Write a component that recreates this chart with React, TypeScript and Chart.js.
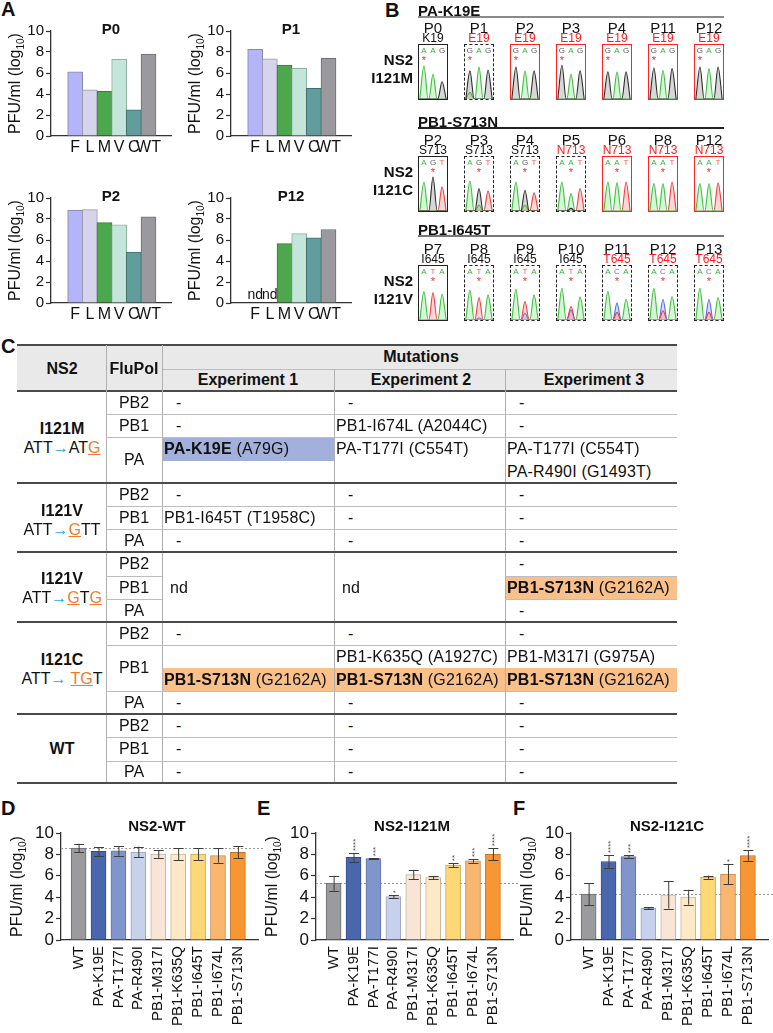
import React, { useEffect, useRef } from 'react';
import { Chart, registerables } from 'chart.js';

Chart.register(...registerables);

const FONT = '"Liberation Sans", Arial, Helvetica, sans-serif';
Chart.defaults.font.family = FONT;

// ---------------- Panel A data ----------------
const aCategories = ['F', 'L', 'M', 'V', 'C', 'WT'];
const aFill = ['#b4b4f8', '#d5d4eb', '#4da74c', '#c4e6da', '#609d9c', '#9a9a9e'];
const aBorder = ['#8787a8', '#9a99ad', '#3b7b3b', '#8fb2a7', '#426f6e', '#6f6f73'];
const p0Titers = [6.1, 4.4, 4.25, 7.3, 2.5, 7.8];
const p1Titers = [8.25, 7.35, 6.75, 6.45, 4.55, 7.4];
const p2Titers = [8.85, 8.9, 7.65, 7.45, 4.85, 8.2];
const p12Titers = [null, null, 5.65, 6.6, 6.2, 7.0];
const p12Missing = ['nd', 'nd', '', '', '', ''];

// ---------------- Panel B data ----------------
// peak heights per base position: [A, C, G, T]
const k19ePassages = ['P0', 'P1', 'P2', 'P3', 'P4', 'P11', 'P12'];
const k19eResidues = ['K19', 'E19', 'E19', 'E19', 'E19', 'E19', 'E19'];
const k19eMutant = [false, true, true, true, true, true, true];
const k19eBases = ['AAG', 'GAG', 'GAG', 'GAG', 'GAG', 'GAG', 'GAG'];
const k19eBoxes = ['solid', 'dashed', 'red', 'red', 'red', 'red', 'red'];
const k19ePeaks = [
  [[1.0, 0, 0, 0], [0.75, 0, 0, 0], [0, 0, 0.52, 0]],
  [[0.2, 0, 0.85, 0], [0.97, 0, 0, 0], [0, 0, 0.88, 0]],
  [[0, 0, 0.97, 0], [0.85, 0, 0, 0], [0, 0, 0.85, 0]],
  [[0, 0, 1.02, 0], [0.75, 0, 0, 0], [0, 0, 0.85, 0]],
  [[0, 0, 0.82, 0], [0.82, 0, 0, 0], [0, 0, 0.82, 0]],
  [[0, 0, 0.94, 0], [0.87, 0, 0, 0], [0, 0, 0.92, 0]],
  [[0, 0, 0.97, 0], [0.92, 0, 0, 0], [0, 0, 0.97, 0]],
];

const s713nPassages = ['P2', 'P3', 'P4', 'P5', 'P6', 'P8', 'P12'];
const s713nResidues = ['S713', 'S713', 'S713', 'N713', 'N713', 'N713', 'N713'];
const s713nMutant = [false, false, false, true, true, true, true];
const s713nBases = ['AGT', 'AGT', 'AGT', 'AAT', 'AAT', 'AAT', 'AAT'];
const s713nBoxes = ['solid', 'dashed', 'dashed', 'dashed', 'red', 'red', 'red'];
const s713nPeaks = [
  [[0.88, 0, 0, 0], [0, 0, 1.03, 0], [0, 0, 0, 0.73]],
  [[0.91, 0, 0, 0], [0.18, 0, 0.68, 0], [0, 0, 0, 0.61]],
  [[0.88, 0, 0, 0], [0.18, 0, 0.63, 0], [0, 0, 0, 0.55]],
  [[0.88, 0, 0, 0], [0.53, 0, 0.08, 0], [0, 0, 0, 0.68]],
  [[0.88, 0, 0, 0], [0.86, 0, 0, 0], [0, 0, 0, 0.88]],
  [[0.83, 0, 0, 0], [0.83, 0, 0, 0], [0, 0, 0, 0.88]],
  [[0.83, 0, 0, 0], [0.83, 0, 0, 0], [0, 0, 0, 0.85]],
];

const i645tPassages = ['P7', 'P8', 'P9', 'P10', 'P11', 'P12', 'P13'];
const i645tResidues = ['I645', 'I645', 'I645', 'I645', 'T645', 'T645', 'T645'];
const i645tMutant = [false, false, false, false, true, true, true];
const i645tBases = ['ATA', 'ATA', 'ATA', 'ATA', 'ACA', 'ACA', 'ACA'];
const i645tBoxes = ['solid', 'dashed', 'dashed', 'dashed', 'dashed', 'dashed', 'dashed'];
const i645tPeaks = [
  [[0.86, 0, 0, 0], [0, 0, 0, 0.83], [0.78, 0, 0, 0]],
  [[0.9, 0, 0, 0], [0, 0.06, 0, 0.68], [0.76, 0, 0, 0]],
  [[0.93, 0, 0, 0], [0, 0.2, 0, 0.56], [0.76, 0, 0, 0]],
  [[0.96, 0, 0, 0], [0, 0.3, 0, 0.41], [0.7, 0, 0, 0]],
  [[0.86, 0, 0, 0], [0, 0.51, 0, 0.23], [0.63, 0, 0, 0]],
  [[0.96, 0, 0, 0], [0, 0.63, 0, 0.28], [0.71, 0, 0, 0]],
  [[0.96, 0, 0, 0], [0, 0.63, 0, 0.23], [0.68, 0, 0, 0]],
];

// ---------------- Panels D-F data ----------------
const mutants = ['WT', 'PA-K19E', 'PA-T177I', 'PA-R490I', 'PB1-M317I', 'PB1-K635Q', 'PB1-I645T', 'PB1-I674L', 'PB1-S713N'];
const mutantFill = ['#9b9b9d', '#4a66ad', '#8095cc', '#c8d1eb', '#f9e5d5', '#fde9c6', '#fed877', '#f8b66f', '#f79632'];
const mutantBorder = ['#6d6d70', '#334d8c', '#5d72a8', '#98a3c0', '#c4b3a6', '#c9b796', '#c7a850', '#c48a4e', '#c2711f'];
const wtMeans = [8.6, 8.28, 8.34, 8.22, 8.03, 8.03, 8.03, 7.9, 8.19];
const wtSD = [0.4, 0.4, 0.45, 0.5, 0.35, 0.57, 0.57, 0.67, 0.55];
const wtSig = ['', '', '', '', '', '', '', '', ''];
const i121mMeans = [5.31, 7.72, 7.6, 4.06, 6.12, 5.84, 7.0, 7.4, 8.03];
const i121mSD = [0.7, 0.4, 0.05, 0.12, 0.45, 0.15, 0.18, 0.17, 0.55];
const i121mSig = ['', '****', '***', '*', '', '', '**', '***', '****'];
const i121cMeans = [4.28, 7.34, 7.8, 2.97, 4.22, 4.0, 5.87, 6.16, 7.9];
const i121cSD = [1.05, 0.6, 0.12, 0.08, 1.28, 0.7, 0.15, 0.95, 0.5];
const i121cSig = ['', '****', '***', '', '', '', '', '*', '****'];

// ---------------- plugins ----------------
const yTitlePlugin: any = {
  id: 'yTitle',
  afterDraw(chart: any, _a: any, o: any) {
    if (!o || !o.text) return;
    const { ctx, chartArea } = chart;
    const x = chartArea.left - o.offset;
    const y = (chartArea.top + chartArea.bottom) / 2;
    ctx.save();
    ctx.translate(x, y);
    ctx.rotate(-Math.PI / 2);
    ctx.fillStyle = '#111';
    ctx.textBaseline = 'middle';
    ctx.textAlign = 'left';
    const main = `${o.size}px ${FONT}`;
    const sub = `${Math.round(o.size * 0.6)}px ${FONT}`;
    ctx.font = main;
    const w1 = ctx.measureText(o.text).width;
    const w3 = ctx.measureText(o.tail).width;
    ctx.font = sub;
    const w2 = ctx.measureText(o.sub).width;
    let cx = -(w1 + w2 + w3) / 2;
    ctx.font = main;
    ctx.fillText(o.text, cx, 0);
    cx += w1;
    ctx.font = sub;
    ctx.fillText(o.sub, cx, o.size * 0.32);
    cx += w2;
    ctx.font = main;
    ctx.fillText(o.tail, cx, 0);
    ctx.restore();
  },
};

const barExtrasPlugin: any = {
  id: 'barExtras',
  beforeDatasetsDraw(chart: any, _a: any, o: any) {
    if (!o || o.refValue == null) return;
    const { ctx, chartArea } = chart;
    const y = chart.scales.y.getPixelForValue(o.refValue);
    ctx.save();
    ctx.strokeStyle = '#9a9a9a';
    ctx.lineWidth = 1;
    ctx.setLineDash([2, 2]);
    ctx.beginPath();
    ctx.moveTo(chartArea.left, Math.round(y) + 0.5);
    ctx.lineTo(chartArea.right + 6, Math.round(y) + 0.5);
    ctx.stroke();
    ctx.restore();
  },
  afterDatasetsDraw(chart: any, _a: any, o: any) {
    if (!o) return;
    const { ctx } = chart;
    const ys = chart.scales.y;
    const meta = chart.getDatasetMeta(0);
    ctx.save();
    meta.data.forEach((bar: any, i: number) => {
      const x = bar.x;
      if (o.means && o.sd) {
        const m = o.means[i];
        const s = o.sd[i];
        const yT = ys.getPixelForValue(m + s);
        const yB = ys.getPixelForValue(m - s);
        ctx.strokeStyle = '#3d3d3d';
        ctx.lineWidth = 1;
        ctx.beginPath();
        ctx.moveTo(x + 0.5, yT);
        ctx.lineTo(x + 0.5, yB);
        ctx.moveTo(x - 4.5, Math.round(yT) + 0.5);
        ctx.lineTo(x + 5.5, Math.round(yT) + 0.5);
        ctx.moveTo(x - 4.5, Math.round(yB) + 0.5);
        ctx.lineTo(x + 5.5, Math.round(yB) + 0.5);
        ctx.stroke();
        if (o.sig && o.sig[i]) {
          ctx.save();
          ctx.translate(x + 1, yT - 2);
          ctx.rotate(-Math.PI / 2);
          ctx.font = `8px ${FONT}`;
          ctx.fillStyle = '#555';
          ctx.textAlign = 'left';
          ctx.textBaseline = 'middle';
          ctx.fillText(o.sig[i], 0, 1);
          ctx.restore();
        }
      }
      if (o.missing && o.missing[i]) {
        ctx.font = `14px ${FONT}`;
        ctx.fillStyle = '#111';
        ctx.textAlign = 'center';
        ctx.textBaseline = 'bottom';
        ctx.fillText(o.missing[i], x, ys.getPixelForValue(0) - 1);
      }
    });
    ctx.restore();
  },
};

function makeBarConfig(p: any) {
  return {
    type: 'bar',
    data: {
      datasets: [
        {
          data: p.values.map((v: any, i: number) => ({ x: i, y: v })),
          backgroundColor: p.fill,
          borderColor: p.border,
          borderWidth: 1,
          barThickness: p.barW,
        },
      ],
    },
    options: {
      animation: false,
      responsive: false,
      devicePixelRatio: 1,
      events: [],
      layout: { padding: { top: p.padTop, right: p.padRight, left: 0, bottom: 0 } },
      plugins: {
        legend: { display: false },
        tooltip: { enabled: false },
        yTitle: { text: 'PFU/ml (log', sub: '10', tail: ')', size: p.titleSize, offset: p.titleOffset },
        barExtras: { means: p.means, sd: p.sd, sig: p.sig, refValue: p.refValue, missing: p.missing },
      },
      scales: {
        x: {
          type: 'linear',
          min: p.xMin,
          max: p.xMax,
          ticks: {
            stepSize: 1,
            autoSkip: false,
            includeBounds: false,
            maxRotation: p.rotate,
            minRotation: p.rotate,
            padding: p.labelPad,
            color: '#111',
            font: { size: p.labelSize, family: FONT },
            callback: (v: any) => (Number.isInteger(v) && p.labels[v] !== undefined ? p.labels[v] : ''),
          },
          grid: { display: false, drawTicks: false },
          border: { display: true, color: '#333', width: 1.3 },
          afterFit: (s: any) => {
            s.height = p.xH;
            s.paddingLeft = 0;
            s.paddingRight = 0;
          },
        },
        y: {
          min: 0,
          max: 10,
          ticks: { stepSize: 2, autoSkip: false, color: '#111', padding: 2, font: { size: p.tickSize, family: FONT } },
          grid: { display: true, drawOnChartArea: false, drawTicks: true, tickLength: 5, tickColor: '#333', tickWidth: 1.2 },
          border: { display: true, color: '#333', width: 1.3 },
          afterFit: (s: any) => {
            s.width = p.yW;
            s.paddingTop = 0;
            s.paddingBottom = 0;
          },
        },
      },
    },
    plugins: [yTitlePlugin, barExtrasPlugin],
  };
}

const lineCol = ['#3cbf3c', '#4f6fe8', '#2b2b2b', '#f03c3c'];
const fillCol = ['rgba(140,225,140,0.35)', 'rgba(140,160,245,0.35)', 'rgba(140,140,140,0.35)', 'rgba(245,140,140,0.35)'];

function makeTraceConfig(peaks: number[][]) {
  const datasets: any[] = [];
  [2, 0, 3, 1].forEach((ch) => {
    if (!peaks.some((pos) => pos[ch] > 0)) return;
    const pts: any[] = [];
    peaks.forEach((pos, i) => {
      pts.push({ x: i - 0.46, y: 0 }, { x: i, y: pos[ch] }, { x: i + 0.46, y: 0 });
    });
    datasets.push({
      data: pts,
      borderColor: lineCol[ch],
      backgroundColor: fillCol[ch],
      fill: 'origin',
      borderWidth: 1.1,
      pointRadius: 0,
      cubicInterpolationMode: 'monotone',
    });
  });
  return {
    type: 'line',
    data: { datasets },
    options: {
      animation: false,
      responsive: false,
      devicePixelRatio: 1,
      events: [],
      layout: { padding: 0 },
      plugins: { legend: { display: false }, tooltip: { enabled: false } },
      scales: {
        x: { type: 'linear', min: -0.55, max: 2.55, display: false },
        y: { min: 0, max: 1.12, display: false },
      },
    },
  };
}

function ChartBox({ left, top, width, height, config }: any) {
  const ref = useRef<HTMLCanvasElement>(null);
  useEffect(() => {
    const c = new Chart(ref.current as HTMLCanvasElement, config);
    return () => c.destroy();
  }, []);
  return (
    <canvas
      ref={ref}
      width={width}
      height={height}
      style={{ position: 'absolute', left, top, width, height }}
    />
  );
}

function Txt({ x, y, children, size = 15, bold = false, color = '#111', align = 'left', style = {} }: any) {
  const tx = align === 'center' ? '-50%' : align === 'right' ? '-100%' : '0';
  return (
    <div
      style={{
        position: 'absolute',
        left: x,
        top: y,
        transform: `translate(${tx}, -50%)`,
        fontSize: size,
        fontWeight: bold ? 700 : 400,
        color,
        whiteSpace: 'nowrap',
        lineHeight: 1,
        fontFamily: FONT,
        ...style,
      }}
    >
      {children}
    </div>
  );
}

function HLine({ x1, x2, y, color = '#b8b8b8', w = 1 }: any) {
  return <div style={{ position: 'absolute', left: x1, top: y - w / 2, width: x2 - x1, height: w, background: color }} />;
}
function VLine({ x, y1, y2, color = '#b0b0b0', w = 1 }: any) {
  return <div style={{ position: 'absolute', left: x - w / 2, top: y1, width: w, height: y2 - y1, background: color }} />;
}
function Rect({ x1, x2, y1, y2, color }: any) {
  return <div style={{ position: 'absolute', left: x1, top: y1, width: x2 - x1, height: y2 - y1, background: color }} />;
}

// ---------------- Panel A ----------------
function PanelA() {
  const charts = [
    { title: 'P0', values: p0Titers, left: 0, top: 21, missing: null },
    { title: 'P1', values: p1Titers, left: 180, top: 21, missing: null },
    { title: 'P2', values: p2Titers, left: 0, top: 188, missing: null },
    { title: 'P12', values: p12Titers, left: 180, top: 188, missing: p12Missing },
  ];
  const yW = 51;
  return (
    <>
      {charts.map((c) => (
        <React.Fragment key={c.title}>
          <ChartBox
            left={c.left}
            top={c.top}
            width={yW + 120 + 14}
            height={10 + 105 + 26}
            config={makeBarConfig({
              values: c.values,
              labels: aCategories,
              fill: aFill,
              border: aBorder,
              barW: 15,
              padTop: 10,
              padRight: 14,
              yW,
              xH: 26,
              xMin: -17 / 17.6,
              xMax: 103 / 17.6,
              rotate: 0,
              labelPad: 2,
              labelSize: 16,
              tickSize: 15,
              titleSize: 16,
              titleOffset: 35,
              missing: c.missing,
            })}
          />
          <Txt x={c.left + 111} y={c.top + 7} size={15} bold align="center">
            {c.title}
          </Txt>
        </React.Fragment>
      ))}
    </>
  );
}

// ---------------- Panel B ----------------
const baseColor: any = { A: '#36b536', C: '#5b79f0', G: '#5a5a5a', T: '#f06050' };
const boxLefts = [418, 464, 510, 556, 602, 648, 694];

function ChromRow({ title, lineColor, titleY, labelY, boxTop, ns2, passages, residues, mutant, bases, boxes, peaks, star }: any) {
  return (
    <>
      <Txt x={418} y={titleY} size={15} bold>
        {title}
      </Txt>
      <HLine x1={418} x2={724} y={titleY + 7} color={lineColor} w={1.5} />
      <Txt x={413} y={boxTop + 15} size={15} bold align="right">
        NS2
      </Txt>
      <Txt x={413} y={boxTop + 33} size={15} bold align="right">
        {ns2}
      </Txt>
      {passages.map((p: string, i: number) => {
        const bl = boxLefts[i];
        const border =
          boxes[i] === 'red' ? '1.5px solid #ff2424' : boxes[i] === 'dashed' ? '1px dashed #222' : '1px solid #222';
        return (
          <React.Fragment key={p + i}>
            <Txt x={bl + 15} y={labelY} size={15} align="center">
              {p}
            </Txt>
            <Txt x={bl + 15} y={labelY + 11} size={12} align="center" color={mutant[i] ? '#ff1a1a' : '#111'}>
              {residues[i]}
            </Txt>
            <div
              style={{
                position: 'absolute',
                left: bl,
                top: boxTop,
                width: 30,
                height: 56,
                border,
                boxSizing: 'border-box',
              }}
            />
            {bases[i].split('').map((b: string, k: number) => (
              <Txt key={k} x={bl + 1 + ((k + 0.55) / 3.1) * 28} y={boxTop + 7} size={8} align="center" color={baseColor[b]}>
                {b}
              </Txt>
            ))}
            <Txt x={bl + 1 + ((star + 0.55) / 3.1) * 28} y={boxTop + 16} size={11} align="center" color="#ff2a2a">
              *
            </Txt>
            <ChartBox left={bl + 1} top={boxTop + 18} width={28} height={37} config={makeTraceConfig(peaks[i])} />
          </React.Fragment>
        );
      })}
    </>
  );
}

function PanelB() {
  return (
    <>
      <ChromRow
        title="PA-K19E"
        lineColor="#8a8a8a"
        titleY={10}
        labelY={27}
        boxTop={44}
        ns2="I121M"
        passages={k19ePassages}
        residues={k19eResidues}
        mutant={k19eMutant}
        bases={k19eBases}
        boxes={k19eBoxes}
        peaks={k19ePeaks}
        star={0}
      />
      <ChromRow
        title="PB1-S713N"
        lineColor="#222"
        titleY={121}
        labelY={139}
        boxTop={156}
        ns2="I121C"
        passages={s713nPassages}
        residues={s713nResidues}
        mutant={s713nMutant}
        bases={s713nBases}
        boxes={s713nBoxes}
        peaks={s713nPeaks}
        star={1}
      />
      <ChromRow
        title="PB1-I645T"
        lineColor="#777"
        titleY={229}
        labelY={248}
        boxTop={265}
        ns2="I121V"
        passages={i645tPassages}
        residues={i645tResidues}
        mutant={i645tMutant}
        bases={i645tBases}
        boxes={i645tBoxes}
        peaks={i645tPeaks}
        star={1}
      />
    </>
  );
}

// ---------------- Panel C (table) ----------------
const COLS = [17, 106, 162, 334, 505, 677];
const HL_BLUE = '#a3b0dc';
const HL_ORANGE = '#f9c08a';
const CELL_FONT = 16;
const CELL_LS = 0.2;

function Codon({ code }: { code: string }) {
  // letters inside [] are the mutated nucleotides
  const parts = code.split(/(\[[^\]]*\])/).filter((s) => s.length);
  return (
    <span>
      ATT<span style={{ color: '#1aa6e6' }}>→</span>
      {parts.map((s, i) =>
        s.startsWith('[') ? (
          <span key={i} style={{ color: '#f07a2a', textDecoration: 'underline' }}>
            {s.slice(1, -1)}
          </span>
        ) : (
          <span key={i}>{s}</span>
        )
      )}
    </span>
  );
}

function Cell({ col, y, text }: any) {
  if (text === '-') {
    return (
      <Txt x={COLS[col] + 14} y={y} size={CELL_FONT}>
        -
      </Txt>
    );
  }
  return (
    <Txt x={COLS[col] + 2} y={y} size={CELL_FONT} style={{ letterSpacing: CELL_LS }}>
      {text}
    </Txt>
  );
}

function Mut({ name, code }: any) {
  return (
    <span>
      <b>{name}</b> {code}
    </span>
  );
}

function PanelC() {
  const dark = '#4a4a4a';
  const light = '#bdbdbd';
  const bottom = 783;
  return (
    <>
      {/* header */}
      <Rect x1={17} x2={677} y1={345} y2={391} color="#e9e9e9" />
      <HLine x1={17} x2={677} y={345} color={dark} w={1.6} />
      <HLine x1={162} x2={677} y={369} color={light} />
      <HLine x1={17} x2={677} y={391} color={dark} w={1.6} />
      <Txt x={62} y={369} size={16} bold align="center">NS2</Txt>
      <Txt x={134} y={369} size={16} bold align="center">FluPol</Txt>
      <Txt x={421} y={357} size={16} bold align="center">Mutations</Txt>
      <Txt x={248} y={380} size={16} bold align="center">Experiment 1</Txt>
      <Txt x={421} y={380} size={16} bold align="center">Experiment 2</Txt>
      <Txt x={594} y={380} size={16} bold align="center">Experiment 3</Txt>

      {/* highlights */}
      <Rect x1={162} x2={334} y1={437} y2={461} color={HL_BLUE} />
      <Rect x1={505} x2={677} y1={576} y2={599} color={HL_ORANGE} />
      <Rect x1={162} x2={677} y1={668} y2={691} color={HL_ORANGE} />

      {/* vertical lines */}
      <VLine x={106} y1={345} y2={bottom} />
      <VLine x={162} y1={345} y2={bottom} />
      <VLine x={334} y1={369} y2={bottom} />
      <VLine x={505} y1={369} y2={bottom} />

      {/* row separators */}
      {[414, 437, 506, 529, 645, 691, 737, 761].map((y) => (
        <HLine key={y} x1={106} x2={677} y={y} color={light} />
      ))}
      {[576, 599].map((y) => (
        <React.Fragment key={y}>
          <HLine x1={106} x2={162} y={y} color={light} />
          <HLine x1={505} x2={677} y={y} color={light} />
        </React.Fragment>
      ))}
      {[483, 552, 622, 714, 783].map((y) => (
        <HLine key={y} x1={17} x2={677} y={y} color={dark} w={1.6} />
      ))}

      {/* NS2 column */}
      <Txt x={62} y={429} size={16} bold align="center">I121M</Txt>
      <Txt x={62} y={448} size={16} align="center"><Codon code="AT[G]" /></Txt>
      <Txt x={62} y={511} size={16} bold align="center">I121V</Txt>
      <Txt x={62} y={530} size={16} align="center"><Codon code="[G]TT" /></Txt>
      <Txt x={62} y={579} size={16} bold align="center">I121V</Txt>
      <Txt x={62} y={598} size={16} align="center"><Codon code="[G]T[G]" /></Txt>
      <Txt x={62} y={660} size={16} bold align="center">I121C</Txt>
      <Txt x={62} y={679} size={16} align="center"><Codon code=" [TG]T" /></Txt>
      <Txt x={62} y={749} size={16} bold align="center">WT</Txt>

      {/* FluPol column */}
      {[
        ['PB2', 402.5], ['PB1', 425.5], ['PA', 460],
        ['PB2', 494.5], ['PB1', 517.5], ['PA', 540.5],
        ['PB2', 564], ['PB1', 587.5], ['PA', 610.5],
        ['PB2', 633.5], ['PB1', 668], ['PA', 702.5],
        ['PB2', 725.5], ['PB1', 749], ['PA', 772],
      ].map(([t, y]: any, i) => (
        <Txt key={i} x={134} y={y} size={CELL_FONT} align="center">{t}</Txt>
      ))}

      {/* I121M */}
      <Cell col={2} y={402.5} text="-" />
      <Cell col={3} y={402.5} text="-" />
      <Cell col={4} y={402.5} text="-" />
      <Cell col={2} y={425.5} text="-" />
      <Cell col={3} y={425.5} text="PB1-I674L (A2044C)" />
      <Cell col={4} y={425.5} text="-" />
      <Cell col={2} y={449} text={<Mut name="PA-K19E" code="(A79G)" />} />
      <Cell col={3} y={449} text="PA-T177I (C554T)" />
      <Cell col={4} y={449} text="PA-T177I (C554T)" />
      <Cell col={4} y={472} text="PA-R490I (G1493T)" />

      {/* I121V GTT */}
      <Cell col={2} y={494.5} text="-" />
      <Cell col={3} y={494.5} text="-" />
      <Cell col={4} y={494.5} text="-" />
      <Cell col={2} y={517.5} text="PB1-I645T (T1958C)" />
      <Cell col={3} y={517.5} text="-" />
      <Cell col={4} y={517.5} text="-" />
      <Cell col={2} y={540.5} text="-" />
      <Cell col={3} y={540.5} text="-" />
      <Cell col={4} y={540.5} text="-" />

      {/* I121V GTG */}
      <Txt x={COLS[2] + 8} y={588} size={CELL_FONT}>nd</Txt>
      <Txt x={COLS[3] + 8} y={588} size={CELL_FONT}>nd</Txt>
      <Cell col={4} y={564} text="-" />
      <Cell col={4} y={587.5} text={<Mut name="PB1-S713N" code="(G2162A)" />} />
      <Cell col={4} y={610.5} text="-" />

      {/* I121C */}
      <Cell col={2} y={633.5} text="-" />
      <Cell col={3} y={633.5} text="-" />
      <Cell col={4} y={633.5} text="-" />
      <Cell col={3} y={657} text="PB1-K635Q (A1927C)" />
      <Cell col={4} y={657} text="PB1-M317I (G975A)" />
      <Cell col={2} y={680} text={<Mut name="PB1-S713N" code="(G2162A)" />} />
      <Cell col={3} y={680} text={<Mut name="PB1-S713N" code="(G2162A)" />} />
      <Cell col={4} y={680} text={<Mut name="PB1-S713N" code="(G2162A)" />} />
      <Cell col={2} y={702.5} text="-" />
      <Cell col={3} y={702.5} text="-" />
      <Cell col={4} y={702.5} text="-" />

      {/* WT */}
      {[725.5, 749, 772].map((y) => (
        <React.Fragment key={y}>
          <Cell col={2} y={y} text="-" />
          <Cell col={3} y={y} text="-" />
          <Cell col={4} y={y} text="-" />
        </React.Fragment>
      ))}
    </>
  );
}

// ---------------- Panels D-F ----------------
function PanelDEF() {
  const panels = [
    { title: 'NS2-WT', left: 0, means: wtMeans, sd: wtSD, sig: wtSig },
    { title: 'NS2-I121M', left: 255, means: i121mMeans, sd: i121mSD, sig: i121mSig },
    { title: 'NS2-I121C', left: 510, means: i121cMeans, sd: i121cSD, sig: i121cSig },
  ];
  const yW = 61;
  return (
    <>
      {panels.map((p) => (
        <React.Fragment key={p.title}>
          <ChartBox
            left={p.left}
            top={823}
            width={yW + 197 + 14}
            height={10 + 107 + 93}
            config={makeBarConfig({
              values: p.means,
              labels: mutants,
              fill: mutantFill,
              border: mutantBorder,
              barW: 15,
              padTop: 10,
              padRight: 14,
              yW,
              xH: 93,
              xMin: -7.5 / 22.4,
              xMax: (197 - 7.5) / 22.4,
              rotate: 90,
              labelPad: 6,
              labelSize: 15,
              tickSize: 17,
              titleSize: 16,
              titleOffset: 43,
              means: p.means,
              sd: p.sd,
              sig: p.sig,
              refValue: p.means[0],
            })}
          />
          <Txt x={p.left + 157} y={825} size={15} bold align="center">
            {p.title}
          </Txt>
        </React.Fragment>
      ))}
    </>
  );
}

export default function App() {
  return (
    <div
      style={{
        position: 'fixed',
        left: 0,
        top: 0,
        width: 773,
        height: 1033,
        background: '#fff',
        overflow: 'hidden',
        fontFamily: FONT,
        color: '#111',
      }}
    >
      <Txt x={1} y={9} size={20} bold>A</Txt>
      <Txt x={385} y={10} size={20} bold>B</Txt>
      <Txt x={1} y={346} size={20} bold>C</Txt>
      <Txt x={1} y={808} size={20} bold>D</Txt>
      <Txt x={257} y={808} size={20} bold>E</Txt>
      <Txt x={513} y={808} size={20} bold>F</Txt>
      <PanelA />
      <PanelB />
      <PanelC />
      <PanelDEF />
    </div>
  );
}
